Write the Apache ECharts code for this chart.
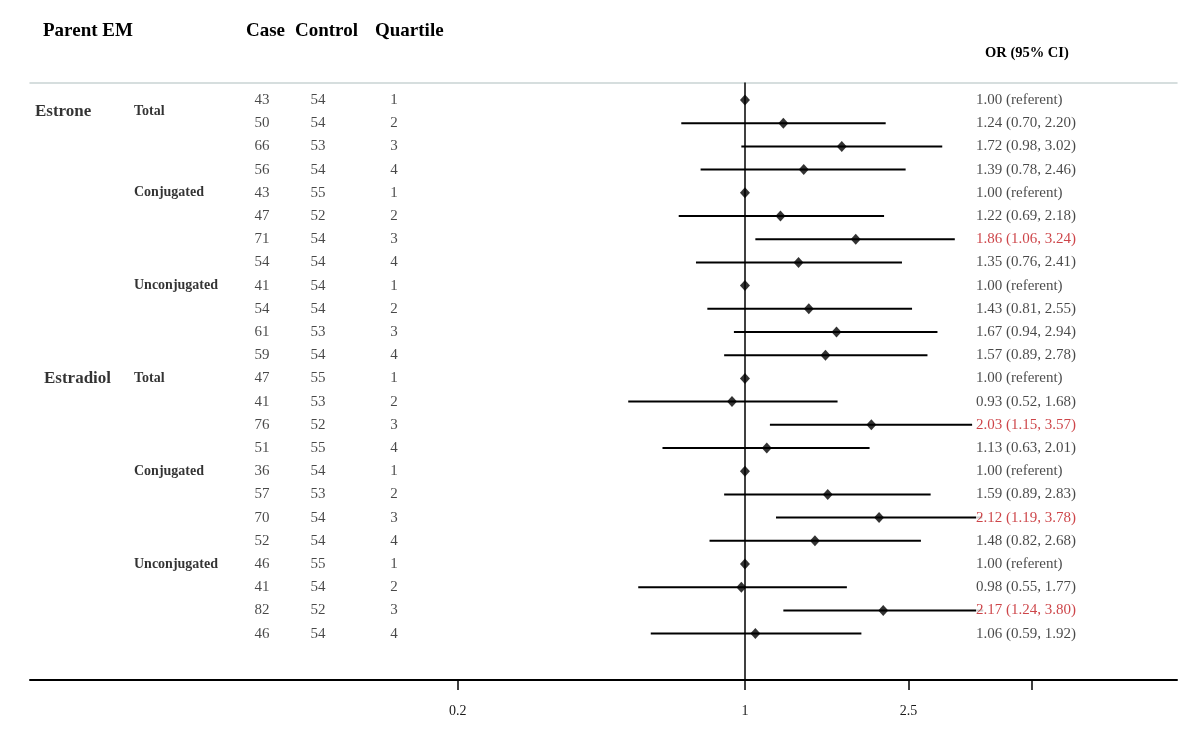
<!DOCTYPE html>
<html>
<head>
<meta charset="utf-8">
<script src="https://cdn.jsdelivr.net/npm/echarts@6/dist/echarts.min.js"></script>
<style>html,body{margin:0;padding:0;background:#fff}#c{width:1200px;height:732px}</style>
</head>
<body>
<div id="c"></div>
<script>
// ---- data ----
var cases    = [43,50,66,56, 43,47,71,54, 41,54,61,59, 47,41,76,51, 36,57,70,52, 46,41,82,46];
var controls = [54,54,53,54, 55,52,54,54, 54,54,53,54, 55,53,52,55, 54,53,54,54, 55,54,52,54];
var quartiles = [1,2,3,4, 1,2,3,4, 1,2,3,4, 1,2,3,4, 1,2,3,4, 1,2,3,4];
var orValues = [1.00,1.24,1.72,1.39, 1.00,1.22,1.86,1.35, 1.00,1.43,1.67,1.57,
                1.00,0.93,2.03,1.13, 1.00,1.59,2.12,1.48, 1.00,0.98,2.17,1.06];
var ciLow  = [null,0.70,0.98,0.78, null,0.69,1.06,0.76, null,0.81,0.94,0.89,
              null,0.52,1.15,0.63, null,0.89,1.19,0.82, null,0.55,1.24,0.59];
var ciHigh = [null,2.20,3.02,2.46, null,2.18,3.24,2.41, null,2.55,2.94,2.78,
              null,1.68,3.57,2.01, null,2.83,3.78,2.68, null,1.77,3.80,1.92];
var significant = [false,false,false,false, false,false,true,false, false,false,false,false,
                   false,false,true,false, false,false,true,false, false,false,true,false];
var parentNames = ['Estrone','Estradiol'];
var parentRows  = [0.5, 12];
var subNames = ['Total','Conjugated','Unconjugated','Total','Conjugated','Unconjugated'];
var subRows  = [0.5, 4, 8, 12, 16, 20];
var axisTicks  = [0.2, 1, 2.5, 5];
var axisLabels = [0.2, 1, 2.5];

// ---- layout ----
var COL = {parent:[35,44], sub:134, cas:262, ctrl:318, quart:394, or:976};
var SERIF = '"Liberation Serif", "DejaVu Serif", serif';
var RED = '#c0161c';
var TXT = '#1a1a1a';

function orText(i){
  if (ciLow[i] == null) return orValues[i].toFixed(2) + ' (referent)';
  return orValues[i].toFixed(2) + ' (' + ciLow[i].toFixed(2) + ', ' + ciHigh[i].toFixed(2) + ')';
}
function textSeries(items, style, z){
  return {
    type:'scatter', xAxisIndex:1, yAxisIndex:0, symbolSize:1, silent:true, clip:false,
    itemStyle:{color:'rgba(0,0,0,0)'},
    label:Object.assign({show:true, position:'inside', formatter:'{b}', fontFamily:SERIF, color:TXT}, style),
    data: items, z: z || 5
  };
}
var caseItems=[], ctrlItems=[], quartItems=[], orItems=[], points=[], ci=[];
for (var i=0;i<cases.length;i++){
  caseItems.push({name:String(cases[i]), value:[COL.cas,i]});
  ctrlItems.push({name:String(controls[i]), value:[COL.ctrl,i]});
  quartItems.push({name:String(quartiles[i]), value:[COL.quart,i]});
  orItems.push({name:orText(i), value:[COL.or,i], label:{color: significant[i]?RED:TXT}});
  points.push([orValues[i], i]);
  if (ciLow[i] != null) ci.push([ciLow[i], ciHigh[i], i]);
}
var parentItems = parentNames.map(function(n,k){return {name:n, value:[COL.parent[k], parentRows[k]]};});
var subItems = subNames.map(function(n,k){return {name:n, value:[COL.sub, subRows[k]]};});

var chart = echarts.init(document.getElementById('c'), null, {renderer:'canvas'});
chart.setOption({
  animation:false,
  backgroundColor:'#fff',
  grid:{left:30, right:23, top:82.6, bottom:52},
  xAxis:[{
    type:'log', min:0.01822, max:11.25, position:'bottom',
    axisLine:{show:true, onZero:false, lineStyle:{color:'#000', width:2}},
    axisTick:{show:true, length:10, lineStyle:{color:'#000', width:1.5}, customValues:axisTicks},
    axisLabel:{show:true, margin:24, fontFamily:SERIF, fontSize:14, color:TXT, customValues:axisLabels,
      formatter:function(v){return String(+(+v).toPrecision(3));}},
    splitLine:{show:false}, minorTick:{show:false}, minorSplitLine:{show:false}
  },{
    type:'value', min:30, max:1177, position:'top',
    axisLine:{show:true, onZero:false, lineStyle:{color:'#c9d3d3', width:1.5}},
    axisTick:{show:false}, axisLabel:{show:false}, splitLine:{show:false}
  }],
  yAxis:[{type:'value', inverse:true, min:-0.75, max:25, show:false}],
  graphic:[
    {type:'text', left:43, top:22, style:{text:'Parent EM', font:'bold 19px '+SERIF, fill:'#000'}},
    {type:'text', left:246, top:22, style:{text:'Case', font:'bold 19px '+SERIF, fill:'#000'}},
    {type:'text', left:295, top:22, style:{text:'Control', font:'bold 19px '+SERIF, fill:'#000'}},
    {type:'text', left:375, top:22, style:{text:'Quartile', font:'bold 19px '+SERIF, fill:'#000'}},
    {type:'text', left:985, top:46, style:{text:'OR (95% CI)', font:'bold 14.5px '+SERIF, fill:'#000'}}
  ],
  series:[
    {
      type:'custom', xAxisIndex:0, yAxisIndex:0, silent:true,
      encode:{x:[0,1], y:2},
      renderItem:function(params, api){
        var p1 = api.coord([api.value(0), api.value(2)]);
        var p2 = api.coord([api.value(1), api.value(2)]);
        return {type:'line', shape:{x1:p1[0], y1:p1[1], x2:p2[0], y2:p2[1]},
                style:{stroke:'#000', lineWidth:2}};
      },
      data: ci, z:3
    },
    {
      type:'scatter', xAxisIndex:0, yAxisIndex:0, symbol:'diamond', symbolSize:[10,11], silent:true,
      itemStyle:{color:'#000'}, data: points, z:4,
      markLine:{silent:true, symbol:'none', label:{show:false},
        lineStyle:{color:'#000', width:1.5, type:'solid'}, data:[{xAxis:1}]}
    },
    textSeries(caseItems, {fontSize:15, align:'center'}),
    textSeries(ctrlItems, {fontSize:15, align:'center'}),
    textSeries(quartItems, {fontSize:15, align:'center'}),
    textSeries(orItems, {fontSize:15, align:'left', backgroundColor:'#fff', padding:[2,2,2,0]}, 8),
    textSeries(parentItems, {fontSize:17, fontWeight:'bold', color:'#000', align:'left'}),
    textSeries(subItems, {fontSize:14, fontWeight:'bold', color:'#000', align:'left'})
  ]
});
</script>
</body>
</html>
